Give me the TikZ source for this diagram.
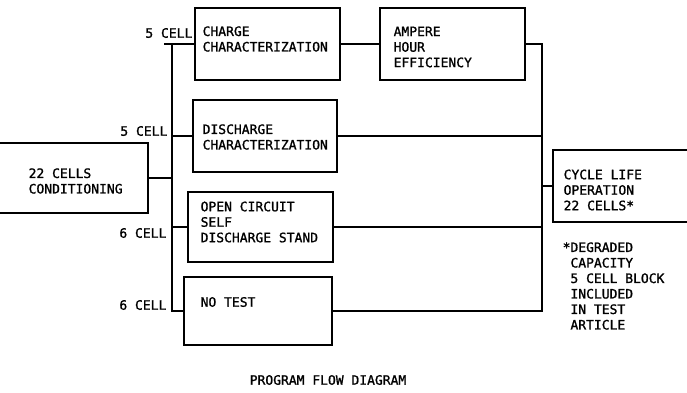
\documentclass[tikz,border=0pt]{standalone}
\usepackage{fontspec}
\newfontfamily\mono[FakeBold=1.2]{DejaVu Sans Mono}
\begin{document}
\begin{tikzpicture}[
        x=1pt, y=-1pt,
        line width=1.3pt,
        font=\mono\fontsize{13}{15.5}\selectfont,
        caixa/.style={draw, inner sep=0pt},
        txt/.style={align=left, inner sep=0pt, anchor=west},
        rotulo/.style={inner sep=0pt, anchor=east}]
        \useasboundingbox (0,0) rectangle (687,392);
        % caixas
        \foreach \nome/\cx/\cy/\w/\h in {
            cond/59/178/178/70,
            chg/267.5/44/145/72,
            dis/265/136/144/72,
            ocv/260.5/227/145/70,
            nt/258/311/148/68,
            ahe/452.5/44/145/72,
            cyc/636.5/186/167/72}{
            \node[caixa, minimum width=\w pt, minimum height=\h pt] (\nome) at (\cx,\cy) {};
        }
        \node[txt] (tcond) at (28,181) {22 CELLS\\CONDITIONING};
        \node[txt] (tchg) at (202,39) {CHARGE\\CHARACTERIZATION};
        \node[txt] (tdis) at (202,137) {DISCHARGE\\CHARACTERIZATION};
        \node[txt] (tocv) at (200,222) {OPEN CIRCUIT\\SELF\\DISCHARGE STAND};
        \node[txt] (tnt) at (200,302) {NO TEST};
        \node[txt] (tahe) at (393,47) {AMPERE\\HOUR\\EFFICIENCY};
        \node[txt] (tcyc) at (563,190) {CYCLE LIFE\\OPERATION\\22 CELLS*};
        \node[txt] (nota) at (562,286) {*DEGRADED\\\hphantom{*}CAPACITY\\\hphantom{*}5 CELL BLOCK\\\hphantom{*}INCLUDED\\\hphantom{*}IN TEST\\\hphantom{*}ARTICLE};
        % rotulos
        \node[rotulo] (r1) at (193,33) {5 CELL};
        \node[rotulo] (r2) at (168,131) {5 CELL};
        \node[rotulo] (r3) at (167,233) {6 CELL};
        \node[rotulo] (r4) at (167,305) {6 CELL};
        \node (titulo) at (328,380) {PROGRAM FLOW DIAGRAM};
        % ligacoes
        \coordinate (lbus) at (172,0);
        \coordinate (rbus) at (542,0);
        \draw (cond.east) -- (cond.east -| lbus);
        \draw (chg.west) -- ++(-30,0);
        \draw (chg.west -| lbus) |- (nt.west);
        \draw (dis.west) -- (dis.west -| lbus);
        \draw (ocv.west) -- (ocv.west -| lbus);
        \draw (chg.east) -- (ahe.west);
        \draw (ahe.east) -- (ahe.east -| rbus) |- (nt.east);
        \draw (dis.east) -- (dis.east -| rbus);
        \draw (ocv.east) -- (ocv.east -| rbus);
        \draw (cyc.west -| rbus) -- (cyc.west);
    \end{tikzpicture}
\end{document}
